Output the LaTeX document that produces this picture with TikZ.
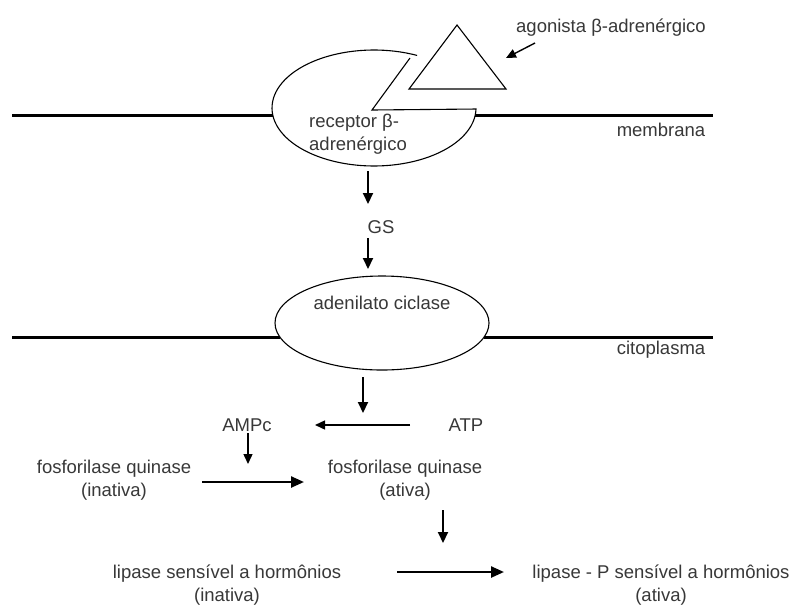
\documentclass[tikz,border=0pt]{standalone}
\usepackage{fontspec}
\setmainfont{Liberation Sans}
\usetikzlibrary{arrows.meta}
\begin{document}
\begin{tikzpicture}[x=1pt,y=-1pt,
  lbl/.style={font=\fontsize{18.5}{23}\selectfont, text=black!78, inner sep=0pt, align=center},
  arr/.style={-{Triangle[length=11pt,width=10pt]}, line width=2pt},
  thinarr/.style={-{Triangle[length=10pt,width=9pt]}, line width=1.4pt},
  boldarr/.style={-{Triangle[length=13pt,width=11pt]}, line width=2.4pt},
  memb/.style={line width=3pt},
  shape line/.style={line width=1.1pt}]
\useasboundingbox[fill=white] (0,0) rectangle (800,606);

% membranes
\draw[memb] (12,115) -- (273,115);
\draw[memb] (475,115) -- (713,115);
\draw[memb] (12,337) -- (280,337);
\draw[memb] (484,337) -- (713,337);

% receptor (ellipse with a notch)
\draw[shape line] plot[domain=65:359, samples=90] ({374+102*cos(\x)},{108-58*sin(\x)})
   -- (372,110) -- (410,58);
% agonist triangle
\draw[shape line] (457,25) -- (409,89) -- (506,89) -- cycle;
% adenilato ciclase
\draw[shape line] (382,323) ellipse [x radius=107pt, y radius=47pt];

% labels
\node[lbl] (ago) at (611,28) {agonista β-adrenérgico};
\node[lbl, anchor=west, align=left] (rec) at (309,134) {receptor β-\\adrenérgico};
\node[lbl] (memb) at (661,130) {membrana};
\node[lbl] (gs) at (381,227) {GS};
\node[lbl] (ac) at (382,303) {adenilato ciclase};
\node[lbl] (cit) at (661,350) {citoplasma};
\node[lbl] (ampc) at (247,425) {AMPc};
\node[lbl] (atp) at (466,425) {ATP};
\node[lbl] (fqi) at (114,480) {fosforilase quinase\\(inativa)};
\node[lbl] (fqa) at (405,480) {fosforilase quinase\\(ativa)};
\node[lbl] (lsi) at (227,585) {lipase sensível a hormônios\\(inativa)};
\node[lbl] (lsa) at (661,585) {lipase - P sensível a hormônios\\(ativa)};

% connector endpoints
\coordinate (a1s) at (535,43);  \coordinate (a1e) at (506,58);
\coordinate (a2s) at (368,171); \coordinate (a2e) at (368,204);
\coordinate (a3s) at (368,238); \coordinate (a3e) at (368,269);
\coordinate (a4s) at (363,377); \coordinate (a4e) at (363,413);
\coordinate (a5s) at (410,425); \coordinate (a5e) at (315,425);
\coordinate (a6s) at (248,433); \coordinate (a6e) at (248,464);
\coordinate (a7s) at (202,482); \coordinate (a7e) at (304,482);
\coordinate (a8s) at (443,510); \coordinate (a8e) at (443,543);
\coordinate (a9s) at (397,572); \coordinate (a9e) at (504,572);

\draw[thinarr] (a1s) -- (a1e);
\draw[arr] (a2s) -- (a2e);
\draw[arr] (a3s) -- (a3e);
\draw[arr] (a4s) -- (a4e);
\draw[thinarr] (a5s) -- (a5e);
\draw[thinarr] (a6s) -- (a6e);
\draw[boldarr] (a7s) -- (a7e);
\draw[arr] (a8s) -- (a8e);
\draw[boldarr] (a9s) -- (a9e);
\end{tikzpicture}
\end{document}
